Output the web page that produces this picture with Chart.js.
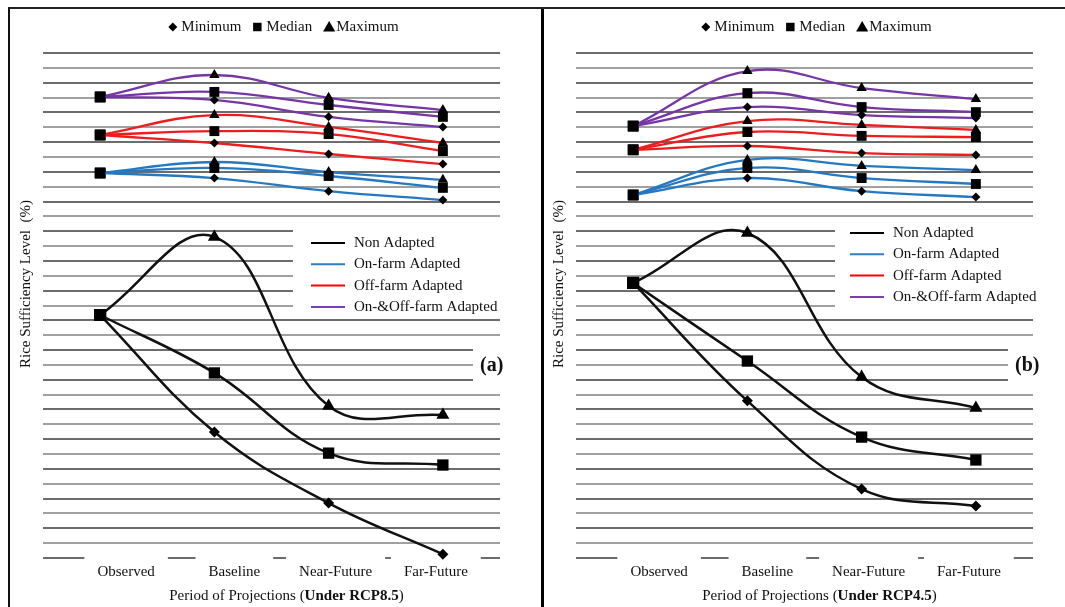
<!DOCTYPE html>
<html lang="en">
<head>
<meta charset="UTF-8">
<title>Rice Sufficiency Level</title>
<script src="https://cdn.jsdelivr.net/npm/chart.js"></script>
<style>
  body { margin: 0; background: #fff; }
  .frame { position: absolute; left: 8px; top: 7px; width: 1057px; height: 600px;
           border-top: 2px solid #222; border-left: 2px solid #111; display: flex; }
  .divider { width: 3px; height: 598px; background: #000; }
</style>
</head>
<body>
<div class="frame">
  <canvas id="chartA" width="531" height="598"></canvas>
  <div class="divider"></div>
  <canvas id="chartB" width="521" height="598"></canvas>
</div>
<script>
// data (arbitrary % scale, gridlines every 5)
const categories = ["Observed", "Baseline", "Near-Future", "Far-Future"];
const groups = ["Non Adapted", "On-farm Adapted", "Off-farm Adapted", "On-&Off-farm Adapted"];
const statLabels = ["Minimum", "Median", "Maximum"];

// (a) RCP8.5
const a_non_min = [81.8, 42.4, 18.5, 1.3];
const a_non_med = [81.8, 62.3, 35.3, 31.3];
const a_non_max = [81.8, 108.1, 51.2, 48.1];
const a_on_min = [129.6, 127.9, 123.5, 120.5];
const a_on_med = [129.6, 131.3, 128.6, 124.6];
const a_on_max = [129.6, 133.3, 129.9, 127.3];
const a_off_min = [142.4, 139.7, 136.0, 132.6];
const a_off_med = [142.4, 143.7, 142.7, 137.0];
const a_off_max = [142.4, 149.1, 145.1, 139.7];
const a_both_min = [155.2, 154.2, 148.5, 145.1];
const a_both_med = [155.2, 156.9, 152.5, 148.5];
const a_both_max = [155.2, 162.6, 154.9, 150.8];

// (b) RCP4.5
const b_non_min = [92.6, 52.9, 23.2, 17.5];
const b_non_med = [92.6, 66.3, 40.7, 33.0];
const b_non_max = [92.6, 109.4, 60.9, 50.5];
const b_on_min = [122.2, 127.9, 123.5, 121.5];
const b_on_med = [122.2, 131.3, 127.9, 125.9];
const b_on_max = [122.2, 134.0, 132.0, 130.6];
const b_off_min = [137.4, 138.7, 136.3, 135.7];
const b_off_med = [137.4, 143.4, 142.1, 141.7];
const b_off_max = [137.4, 147.1, 145.8, 144.1];
const b_both_min = [145.4, 151.8, 149.1, 148.1];
const b_both_med = [145.4, 156.5, 151.8, 150.1];
const b_both_max = [145.4, 163.9, 158.2, 154.5];

const groupColors = ["#111111", "#2479c2", "#ee1d1d", "#7636a6"];
const legendColors = ["#000000", "#2f7fc8", "#ff0000", "#7a3fb0"];
const statStyles = ["rectRot", "rect", "triangle"];
const serif = '"Liberation Serif", "Times New Roman", serif';

Chart.defaults.font.family = serif;

function buildDatasets(series) {
  var out = [];
  series.forEach(function (grp, g) {
    var big = g === 0;
    grp.forEach(function (vals, s) {
      var r = s === 0 ? (big ? 5.5 : 4.5) : s === 1 ? (big ? 8 : 7) : (big ? 7.5 : 6);
      out.push({
        label: groups[g] + " " + statLabels[s],
        data: vals,
        borderColor: groupColors[g],
        borderWidth: big ? 2.5 : 2.3,
        tension: 0.4,
        clip: false,
        pointStyle: vals.map(function (v, i) { return i === 0 ? "rect" : statStyles[s]; }),
        pointRadius: vals.map(function (v, i) { return i === 0 ? (big ? 8.5 : 7.5) : r; }),
        pointBackgroundColor: "#000",
        pointBorderColor: "#000",
        pointBorderWidth: 0
      });
    });
  });
  return out;
}

function drawMixed(ctx, parts, cx, y) {
  var total = 0;
  parts.forEach(function (p) { ctx.font = p[1]; total += ctx.measureText(p[0]).width; });
  var x = cx - total / 2;
  ctx.textAlign = "left";
  parts.forEach(function (p) { ctx.font = p[1]; ctx.fillText(p[0], x, y); x += ctx.measureText(p[0]).width; });
}

function decorPlugin(p) {
  return {
    id: "decor",
    beforeDatasetsDraw: function (chart) {
      var ctx = chart.ctx, ca = chart.chartArea, x = chart.scales.x;
      ctx.save();
      ctx.fillStyle = "#fff";
      ctx.fillRect(ca.left + p.legendBox[0], ca.top + p.legendBox[1], p.legendBox[2], p.legendBox[3]);
      ctx.fillRect(ca.left + p.tagBox[0], ca.top + p.tagBox[1], p.tagBox[2], p.tagBox[3]);
      ctx.font = "15px " + serif;
      categories.forEach(function (c, i) {
        var cx = x.getPixelForTick(i) + p.labelShift[i];
        var w = ctx.measureText(c).width + 26;
        ctx.fillRect(cx - w / 2, ca.bottom - 6, w, 36);
      });
      ctx.restore();
    },
    afterDraw: function (chart) {
      var ctx = chart.ctx, ca = chart.chartArea, x = chart.scales.x;
      var mid = (ca.left + ca.right) / 2;
      ctx.save();
      ctx.fillStyle = "#111";
      ctx.textBaseline = "middle";

      // category labels
      ctx.font = "15px " + serif;
      ctx.textAlign = "center";
      categories.forEach(function (c, i) {
        ctx.fillText(c, x.getPixelForTick(i) + p.labelShift[i], ca.bottom + 14);
      });

      // x title
      drawMixed(ctx, [["Period of Projections (", "15px " + serif],
                      ["Under " + p.rcp, "bold 15px " + serif],
                      [")", "15px " + serif]], mid + 15, ca.bottom + 38);

      // y title
      ctx.save();
      ctx.translate(ca.left - 17, ca.top + 231);
      ctx.rotate(-Math.PI / 2);
      ctx.font = "15px " + serif;
      ctx.textAlign = "center";
      ctx.fillText("Rice Sufficiency Level  (%)", 0, 0);
      ctx.restore();

      // marker legend on top
      var items = [["rectRot", 4.5, "Minimum", 4], ["rect", 6, "Median", 3], ["triangle", 7, "Maximum", 0]];
      ctx.font = "15px " + serif;
      var total = 0;
      items.forEach(function (it) { total += it[1] * 2 + it[3] + ctx.measureText(it[2]).width + 10; });
      var cur = mid + 12 - (total - 10) / 2, ty = ca.top - 26;
      items.forEach(function (it) {
        ctx.fillStyle = "#000";
        Chart.helpers.drawPoint(ctx, { pointStyle: it[0], radius: it[1], borderWidth: 0 }, cur + it[1], ty + (it[0] === "triangle" ? 1 : 0));
        cur += it[1] * 2 + it[3];
        ctx.fillStyle = "#111";
        ctx.textAlign = "left";
        ctx.fillText(it[2], cur, ty);
        cur += ctx.measureText(it[2]).width + 10;
      });

      // colour legend
      groups.forEach(function (g, i) {
        var ly = ca.top + p.legendRow0 + i * 21.3;
        var lx = ca.left + p.legendLineX;
        ctx.strokeStyle = legendColors[i];
        ctx.lineWidth = 2;
        ctx.beginPath();
        ctx.moveTo(lx, ly);
        ctx.lineTo(lx + 34, ly);
        ctx.stroke();
        ctx.fillStyle = "#111";
        ctx.textAlign = "left";
        ctx.fillText(g, lx + 43, ly);
      });

      // panel tag
      ctx.font = "bold 20px " + serif;
      ctx.textAlign = "left";
      ctx.fillText(p.tag, ca.left + p.tagBox[0] + 7, ca.top + 313);
      ctx.restore();
    }
  };
}

function makeChart(id, series, p) {
  return new Chart(document.getElementById(id), {
    type: "line",
    data: { labels: categories, datasets: buildDatasets(series) },
    options: {
      responsive: false,
      animation: false,
      layout: { padding: p.padding },
      plugins: { legend: { display: false }, tooltip: { enabled: false } },
      scales: {
        x: {
          offset: true,
          grid: { display: false, drawTicks: false },
          border: { display: false },
          ticks: { display: false }
        },
        y: {
          min: 0,
          max: 170,
          ticks: { display: false, stepSize: 5 },
          grid: {
            drawTicks: false,
            lineWidth: 2,
            color: function (c) { return c.index % 2 ? "#a0a0a0" : "#6c6c6c"; }
          },
          border: { display: false }
        }
      }
    },
    plugins: [decorPlugin(p)]
  });
}

makeChart("chartA", [
  [a_non_min, a_non_med, a_non_max],
  [a_on_min, a_on_med, a_on_max],
  [a_off_min, a_off_med, a_off_max],
  [a_both_min, a_both_med, a_both_max]
], {
  rcp: "RCP8.5", tag: "(a)",
  padding: { left: 33, right: 41, top: 44, bottom: 49 },
  legendBox: [250, 171, 215, 92],
  legendLineX: 268, legendRow0: 190,
  tagBox: [430, 290, 42, 47],
  labelShift: [26, 20, 7, -7]
});

makeChart("chartB", [
  [b_non_min, b_non_med, b_non_max],
  [b_on_min, b_on_med, b_on_max],
  [b_off_min, b_off_med, b_off_max],
  [b_both_min, b_both_med, b_both_max]
], {
  rcp: "RCP4.5", tag: "(b)",
  padding: { left: 32, right: 32, top: 44, bottom: 49 },
  legendBox: [259, 167, 215, 94],
  legendLineX: 274, legendRow0: 180,
  tagBox: [432, 290, 44, 47],
  labelShift: [26, 20, 7, -7]
});
</script>
</body>
</html>
